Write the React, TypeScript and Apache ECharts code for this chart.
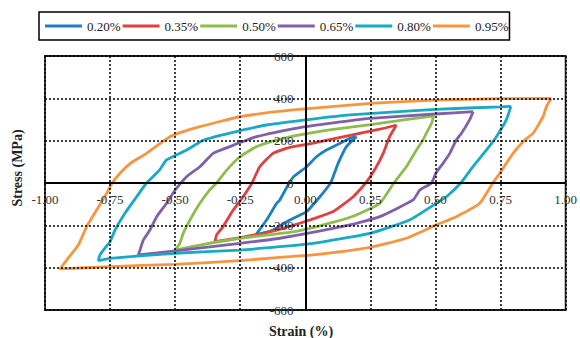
import React, { useEffect, useRef } from "react";
import * as echarts from "echarts";

const seriesNames = ["0.20%", "0.35%", "0.50%", "0.65%", "0.80%", "0.95%"];
const colors = ["#1f7fc1", "#e04040", "#8ebc4e", "#8060a8", "#18aac4", "#f89540"];

const xTicks = { min: -1, max: 1, interval: 0.25 };
const yTicks = { min: -600, max: 600, interval: 200 };

// Loops: start at positive tip, unload to negative tip, reload back to positive tip
const loop020: [number, number][] = [
  [0.197, 219], [0.158, 172], [0.126, 93], [0.107, 30], [0.097, 0], [0.056, -65],
  [0.005, -135], [-0.06, -175], [-0.124, -222], [-0.19, -245],
  [-0.149, -175], [-0.11, -96], [-0.098, -80], [-0.062, 0], [-0.045, 30],
  [0.005, 77], [0.043, 124], [0.081, 156], [0.132, 187], [0.171, 211], [0.197, 219],
];
const loop035: [number, number][] = [
  [0.35, 274], [0.324, 219], [0.299, 140], [0.273, 77], [0.232, 0], [0.184, -65],
  [0.107, -135], [0.017, -175], [-0.06, -205], [-0.15, -235], [-0.25, -258], [-0.347, -277],
  [-0.341, -246], [-0.316, -206], [-0.277, -128], [-0.239, -65], [-0.205, 0],
  [-0.175, 77], [-0.124, 140], [-0.06, 168], [0.03, 188], [0.158, 222], [0.286, 254], [0.35, 274],
];
const loop050: [number, number][] = [
  [0.493, 317], [0.485, 282], [0.465, 235], [0.452, 203], [0.427, 156], [0.388, 77],
  [0.34, 0], [0.286, -96], [0.196, -151], [0.094, -190], [-0.034, -228],
  [-0.251, -261], [-0.405, -293], [-0.5, -317],
  [-0.482, -285], [-0.469, -238], [-0.443, -175], [-0.405, -96], [-0.367, -33], [-0.341, 0],
  [-0.302, 61], [-0.251, 124], [-0.187, 172], [-0.11, 203], [-0.021, 227], [0.1, 252],
  [0.25, 276], [0.4, 302], [0.493, 317],
];
const loop065: [number, number][] = [
  [0.645, 337], [0.631, 298], [0.6, 235], [0.58, 203], [0.555, 140], [0.529, 93],
  [0.503, 50], [0.485, 0], [0.44, -33], [0.414, -80], [0.286, -159], [0.171, -198],
  [-0.098, -261], [-0.251, -285], [-0.5, -321], [-0.642, -340],
  [-0.635, -317], [-0.629, -293], [-0.622, -269], [-0.597, -222], [-0.571, -159],
  [-0.533, -96], [-0.5, -33], [-0.456, 30], [-0.405, 77], [-0.354, 140], [-0.29, 172],
  [-0.187, 219], [-0.021, 262], [0.1, 283], [0.25, 305], [0.5, 326], [0.645, 337],
];
const loop080: [number, number][] = [
  [0.79, 362], [0.772, 298], [0.734, 219], [0.696, 156], [0.644, 77], [0.597, 0],
  [0.542, -65], [0.503, -96], [0.4, -175], [0.248, -238], [0.03, -285], [-0.098, -301],
  [-0.251, -317], [-0.5, -332], [-0.75, -356], [-0.795, -367],
  [-0.789, -340], [-0.77, -308], [-0.75, -277], [-0.731, -222], [-0.693, -143],
  [-0.648, -65], [-0.61, 0], [-0.56, 61], [-0.533, 109], [-0.456, 156], [-0.39, 203],
  [-0.29, 236], [-0.149, 274], [0, 298], [0.158, 321], [0.5, 348], [0.75, 360], [0.79, 362],
];
const loop095: [number, number][] = [
  [0.945, 400], [0.926, 360], [0.913, 313], [0.875, 235], [0.843, 203], [0.798, 140],
  [0.747, 46], [0.72, 0], [0.67, -96], [0.58, -159], [0.503, -198], [0.388, -261],
  [0.248, -304], [0.03, -340], [-0.098, -351], [-0.251, -367], [-0.5, -384],
  [-0.75, -395], [-0.942, -406],
  [-0.917, -364], [-0.872, -293], [-0.84, -206], [-0.802, -128], [-0.763, -49],
  [-0.742, 0], [-0.712, 46], [-0.672, 93], [-0.61, 140], [-0.52, 219], [-0.405, 266],
  [-0.251, 313], [-0.047, 345], [0.25, 376], [0.5, 392], [0.75, 398], [0.945, 400],
];
const loops = [loop020, loop035, loop050, loop065, loop080, loop095];

const serif = '"Liberation Serif", "Times New Roman", serif';

const W = 580;
const H = 338;
const G = { left: 45, right: 14, top: 56, bottom: 28 };

export default function App() {
  const ref = useRef<HTMLDivElement>(null);
  useEffect(() => {
    document.body.style.margin = "0";
    if (!ref.current) return;
    const chart = echarts.init(ref.current, undefined, { renderer: "svg" });
    const gw = W - G.left - G.right;
    const gh = H - G.top - G.bottom;
    chart.setOption({
      animation: false,
      color: colors,
      legend: {
        left: 39,
        top: 12,
        padding: [7, 1, 7, 6],
        borderColor: "#000",
        borderWidth: 1.5,
        itemGap: 2,
        itemWidth: 37,
        itemHeight: 3,
        icon: "rect",
        data: seriesNames,
        textStyle: { fontFamily: serif, fontSize: 13, color: "#222", lineHeight: 14 },
      },
      grid: {
        ...G,
        show: true,
        borderColor: "#222",
        borderWidth: 1.8,
        backgroundColor: "#fff",
      },
      xAxis: {
        type: "value",
        position: "bottom",
        offset: -gh / 2,
        min: xTicks.min,
        max: xTicks.max,
        interval: xTicks.interval,
        axisLine: { onZero: false, lineStyle: { color: "#000", width: 2 } },
        axisTick: { show: false },
        axisLabel: {
          margin: 10,
          fontFamily: serif,
          fontSize: 13,
          color: "#333",
          formatter: (v: number) => v.toFixed(2),
        },
        splitLine: { show: true, lineStyle: { color: "#000", width: 1.5, type: [2, 2] } },
        z: 4,
      },
      yAxis: {
        type: "value",
        position: "left",
        offset: -gw / 2,
        min: yTicks.min,
        max: yTicks.max,
        interval: yTicks.interval,
        axisLine: { onZero: false, lineStyle: { color: "#000", width: 2 } },
        axisTick: { show: false },
        axisLabel: {
          margin: 12,
          fontFamily: serif,
          fontSize: 13,
          color: "#333",
          formatter: (v: number) => String(v),
        },
        splitLine: { show: true, lineStyle: { color: "#000", width: 1.5, type: [2, 2] } },
        z: 4,
      },
      graphic: [
        {
          type: "text",
          x: 17,
          y: 168,
          rotation: Math.PI / 2,
          style: {
            text: "Stress (MPa)",
            font: `bold 14px ${serif}`,
            fill: "#222",
            align: "center",
            verticalAlign: "middle",
          },
        },
        {
          type: "text",
          x: 301,
          y: 331,
          style: {
            text: "Strain (%)",
            font: `bold 14px ${serif}`,
            fill: "#222",
            align: "center",
            verticalAlign: "middle",
          },
        },
      ],
      series: loops.map((d, i) => ({
        name: seriesNames[i],
        type: "line",
        data: d,
        showSymbol: false,
        symbol: "none",
        smooth: 0.15,
        lineStyle: { width: 2.8, color: colors[i] },
        itemStyle: { color: colors[i] },
        z: 3,
      })),
    });
    return () => chart.dispose();
  }, []);
  return <div ref={ref} style={{ width: W, height: H }} />;
}
